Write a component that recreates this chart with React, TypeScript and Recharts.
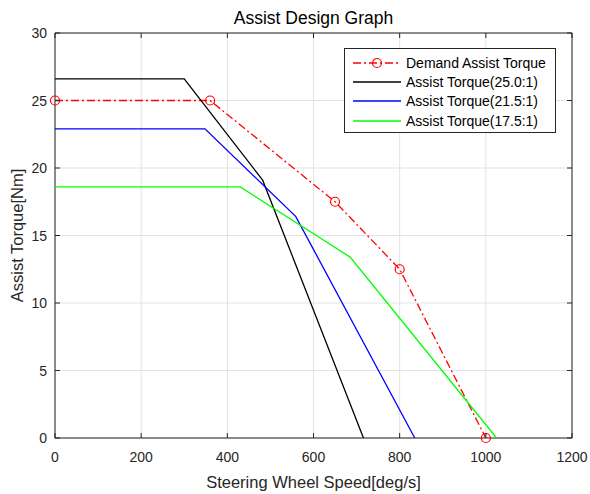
import { LineChart, Line, XAxis, YAxis, CartesianGrid, ReferenceArea } from 'recharts';

// values
const demandSpeed = [0, 360, 650, 800, 1000];
const demandTorque = [25, 25, 17.5, 12.5, 0];
const ratio250Speed = [0, 300, 482, 716];
const ratio250Torque = [26.6, 26.6, 19.1, 0];
const ratio215Speed = [0, 348, 559, 835];
const ratio215Torque = [22.9, 22.9, 16.4, 0];
const ratio175Speed = [0, 430, 685, 1025];
const ratio175Torque = [18.6, 18.6, 13.4, 0];

const xTicks = [0, 200, 400, 600, 800, 1000, 1200];
const yTicks = [0, 5, 10, 15, 20, 25, 30];

const toPoints = (speed: number[], torque: number[]) => speed.map((s, i) => ({ speed: s, torque: torque[i] }));

const series = [
  { name: 'Demand Assist Torque', data: toPoints(demandSpeed, demandTorque), color: '#ff0000', dash: '8 3 2 3', marker: true },
  { name: 'Assist Torque(25.0:1)', data: toPoints(ratio250Speed, ratio250Torque), color: '#000000', dash: undefined, marker: false },
  { name: 'Assist Torque(21.5:1)', data: toPoints(ratio215Speed, ratio215Torque), color: '#0000ff', dash: undefined, marker: false },
  { name: 'Assist Torque(17.5:1)', data: toPoints(ratio175Speed, ratio175Torque), color: '#00ff00', dash: undefined, marker: false },
];

const FONT = '"Liberation Sans", Arial, sans-serif';
const AXIS = '#262626';
const TOP = 33;
const BOTTOM = 438;
const LEFT = 55;
const RIGHT = 572;

function XTick({ x, payload }: any) {
  return (
    <g>
      <line x1={x} x2={x} y1={BOTTOM} y2={BOTTOM - 5} stroke={AXIS} />
      <line x1={x} x2={x} y1={TOP} y2={TOP + 5} stroke={AXIS} />
      <text x={x} y={BOTTOM + 24} textAnchor="middle" fontSize={14} fill={AXIS} fontFamily={FONT}>
        {payload.value}
      </text>
    </g>
  );
}

function YTick({ y, payload }: any) {
  return (
    <g>
      <line x1={LEFT} x2={LEFT + 5} y1={y} y2={y} stroke={AXIS} />
      <line x1={RIGHT} x2={RIGHT - 5} y1={y} y2={y} stroke={AXIS} />
      <text x={LEFT - 8} y={y} dy={5} textAnchor="end" fontSize={14} fill={AXIS} fontFamily={FONT}>
        {payload.value}
      </text>
    </g>
  );
}

function LegendBox() {
  return (
    <div style={{ position: 'absolute', left: 344, top: 48, width: 210, height: 83, border: `1px solid ${AXIS}`, background: '#fff', fontFamily: FONT, fontSize: 14, color: '#000' }}>
      {series.map((s, i) => (
        <div key={s.name} style={{ display: 'flex', alignItems: 'center', height: 19.3, marginTop: i === 0 ? 4 : 0 }}>
          <svg width={56} height={12} style={{ marginLeft: 4 }}>
            <line x1={4} x2={52} y1={6} y2={6} stroke={s.color} strokeWidth={1.4} strokeDasharray={s.dash} />
            {s.marker && <circle cx={28} cy={6} r={4.5} fill="none" stroke={s.color} strokeWidth={1.2} />}
          </svg>
          <span style={{ marginLeft: 1 }}>{s.name}</span>
        </div>
      ))}
    </div>
  );
}

export default function App() {
  return (
    <div style={{ position: 'absolute', left: 0, top: 0, width: 590, height: 494, background: '#fff' }}>
      <div style={{ position: 'absolute', left: LEFT, width: RIGHT - LEFT, top: 8, textAlign: 'center', fontFamily: FONT, fontSize: 17.5, color: '#000' }}>
        Assist Design Graph
      </div>
      <LineChart width={590} height={494} margin={{ top: TOP, right: 590 - RIGHT, bottom: 0, left: 0 }}>
        <CartesianGrid stroke="#e3e3e3" />
        <XAxis
          type="number"
          dataKey="speed"
          domain={[0, 1200]}
          ticks={xTicks}
          height={56}
          tickLine={false}
          axisLine={false}
          tick={<XTick />}
          interval={0}
          label={{ value: 'Steering Wheel Speed[deg/s]', position: 'insideBottom', offset: 6, fontSize: 16.5, fill: AXIS, fontFamily: FONT }}
        />
        <YAxis
          type="number"
          domain={[0, 30]}
          ticks={yTicks}
          width={LEFT}
          tickLine={false}
          axisLine={false}
          tick={<YTick />}
          interval={0}
          label={{ value: 'Assist Torque[Nm]', angle: -90, position: 'center', dx: -10, fontSize: 16.5, fill: AXIS, fontFamily: FONT }}
        />
        <ReferenceArea x1={0} x2={1200} y1={0} y2={30} fill="none" stroke={AXIS} strokeWidth={1} ifOverflow="visible" />
        {series.map((s) => (
          <Line
            key={s.name}
            data={s.data}
            dataKey="torque"
            name={s.name}
            type="linear"
            stroke={s.color}
            strokeWidth={1.3}
            strokeDasharray={s.dash}
            dot={s.marker ? { r: 4.5, fill: 'none', stroke: s.color, strokeWidth: 1.2, strokeDasharray: '' } : false}
            activeDot={false}
            isAnimationActive={false}
          />
        ))}
      </LineChart>
      <LegendBox />
    </div>
  );
}
